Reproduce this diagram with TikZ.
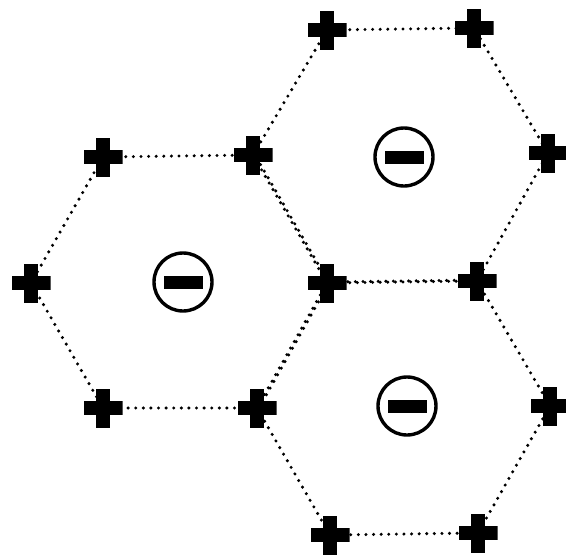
\documentclass[tikz,border=0pt]{standalone}
\usetikzlibrary{backgrounds}
\tikzset{
  plusnode/.style={minimum size=39pt, inner sep=0pt, draw=none,
    path picture={
      \fill[black] ([xshift=-19.5pt,yshift=-7pt]path picture bounding box.center) rectangle ([xshift=19.5pt,yshift=7pt]path picture bounding box.center);
      \fill[black] ([xshift=-7pt,yshift=-19.5pt]path picture bounding box.center) rectangle ([xshift=7pt,yshift=19.5pt]path picture bounding box.center);
    }},
  minusnode/.style={circle, draw, line width=3.4pt, minimum size=58pt, inner sep=0pt, fill=white,
    path picture={
      \fill[black] ([xshift=-19.5pt,yshift=-6.5pt]path picture bounding box.center) rectangle ([xshift=19.5pt,yshift=6.5pt]path picture bounding box.center);
    }},
  dotline/.style={line width=3.4pt, line cap=round, dash pattern=on 0pt off 7.6pt}
}
\begin{document}
\begin{tikzpicture}[x=1pt,y=-1pt]
\useasboundingbox (0,0) rectangle (566,555);
\node[plusnode] (A) at (103,157) {};
\node[plusnode] (B) at (253,155) {};
\node[plusnode] (C) at (327,283) {};
\node[plusnode] (D) at (257,408) {};
\node[plusnode] (E) at (103,408) {};
\node[plusnode] (F) at (31,283) {};
\node[plusnode] (G) at (327,30) {};
\node[plusnode] (H) at (474,28) {};
\node[plusnode] (I) at (548,153) {};
\node[plusnode] (J) at (477,281) {};
\node[plusnode] (K) at (550,406) {};
\node[plusnode] (L) at (478,533) {};
\node[plusnode] (M) at (330,535) {};
\node[minusnode] (c1) at (183,282) {};
\node[minusnode] (c2) at (404,157) {};
\node[minusnode] (c3) at (407,406) {};
\begin{scope}[on background layer]
\draw[dotline] (A.center) -- (B.center) -- (C.center) -- (D.center) -- (E.center) -- (F.center) -- (A.center);
\draw[dotline] (G.center) -- (H.center) -- (I.center) -- (J.center);
\draw[dotline] ([yshift=1pt]J.center) -- ([yshift=1pt]C.center);
\draw[dotline] ([xshift=2pt]C.center) -- ([xshift=2pt]B.center);
\draw[dotline] (B.center) -- (G.center);
\draw[dotline] (J.center) -- (K.center) -- (L.center) -- (M.center) -- (D.center);
\draw[dotline] ([xshift=2pt]D.center) -- ([xshift=2pt]C.center);
\draw[dotline] (C.center) -- (J.center);
\end{scope}
\end{tikzpicture}
\end{document}
